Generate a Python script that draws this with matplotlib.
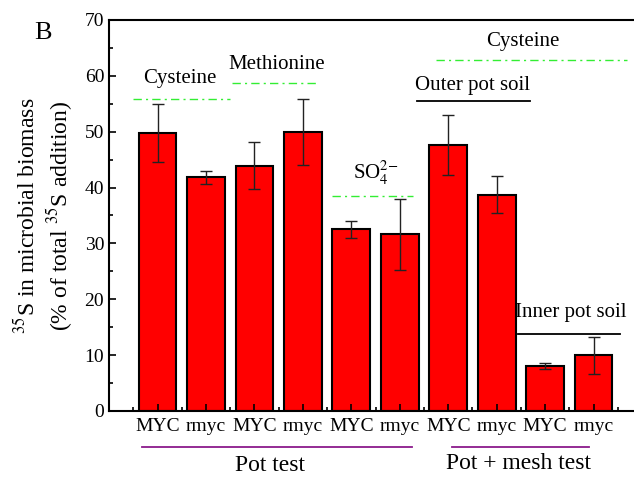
import numpy as np
import matplotlib.pyplot as plt
from matplotlib.ticker import MultipleLocator

plt.rcParams['font.family'] = ['Liberation Serif', 'DejaVu Serif']
plt.rcParams['mathtext.fontset'] = 'stix'

# data
labels = ['MYC', 'rmyc', 'MYC', 'rmyc', 'MYC', 'rmyc', 'MYC', 'rmyc', 'MYC', 'rmyc']
values = [49.8, 41.8, 43.9, 49.9, 32.5, 31.6, 47.6, 38.7, 8.0, 10.0]
errors = [5.2, 1.1, 4.2, 5.9, 1.5, 6.4, 5.4, 3.3, 0.55, 3.3]

x = np.arange(1, len(values) + 1)

fig = plt.figure(figsize=(6.34, 4.8), dpi=100)
ax = fig.add_axes([0.172, 0.1438, 0.8407, 0.8146])

ax.bar(x, values, width=0.78, color='#ff0000', edgecolor='black', linewidth=1.5,
       yerr=errors, error_kw=dict(ecolor='#222222', elinewidth=1, capsize=4, capthick=1))

ax.set_xlim(0, 11)
ax.set_ylim(0, 70)
ax.set_xticks(x)
ax.set_xticklabels(labels, fontsize=14)
ax.xaxis.set_minor_locator(plt.FixedLocator(np.arange(0.5, 11, 1)))
ax.yaxis.set_major_locator(MultipleLocator(10))
ax.yaxis.set_minor_locator(MultipleLocator(5))
ax.tick_params(which='both', direction='in', width=1.2)
ax.tick_params(which='major', length=5)
ax.tick_params(axis='y', labelsize=14)
ax.tick_params(which='minor', length=3)
ax.tick_params(axis='x', pad=5)
for s in ax.spines.values():
    s.set_linewidth(1.5)
ax.spines['right'].set_visible(False)

ax.set_ylabel('$^{35}$S in microbial biomass\n(% of total $^{35}$S addition)',
              fontsize=17, linespacing=1.2, labelpad=7)

green = '#33ee33'
dd = (0, (6, 3, 1.5, 3))
# treatment labels
ax.plot([0.49, 2.49], [55.8, 55.8], color=green, lw=1, linestyle=dd)
ax.text(1.46, 59.6, 'Cysteine', ha='center', va='center', fontsize=15)
ax.plot([2.54, 4.33], [58.8, 58.8], color=green, lw=1, linestyle=dd)
ax.text(3.46, 62.0, 'Methionine', ha='center', va='center', fontsize=15)
ax.plot([4.6, 6.27], [38.5, 38.5], color=green, lw=1, linestyle=dd)
ax.text(5.5, 42.6, r'SO$_4^{2\!-}$', ha='center', va='center', fontsize=15)
ax.plot([6.74, 10.68], [62.8, 62.8], color=green, lw=1, linestyle=dd)
ax.text(8.54, 66.2, 'Cysteine', ha='center', va='center', fontsize=15)

ax.plot([6.35, 8.68], [55.5, 55.5], color='black', lw=1.3)
ax.text(7.5, 58.2, 'Outer pot soil', ha='center', va='center', fontsize=15)
ax.plot([8.45, 10.54], [13.8, 13.8], color='black', lw=1.3)
ax.text(9.53, 17.6, 'Inner pot soil', ha='center', va='center', fontsize=15)

# groups below the axis
purple = '#8b1a8b'
ax.plot([0.68, 6.25], [-6.45, -6.45], color=purple, lw=1.3, clip_on=False)
ax.text(3.32, -9.8, 'Pot test', ha='center', va='center', fontsize=17)
ax.plot([7.07, 9.9], [-6.45, -6.45], color=purple, lw=1.3, clip_on=False)
ax.text(8.45, -9.4, 'Pot + mesh test', ha='center', va='center', fontsize=17)

fig.text(43 / 634, 1 - 33 / 480, 'B', ha='center', va='center', fontsize=19)

fig.savefig('out.png', dpi=100)
